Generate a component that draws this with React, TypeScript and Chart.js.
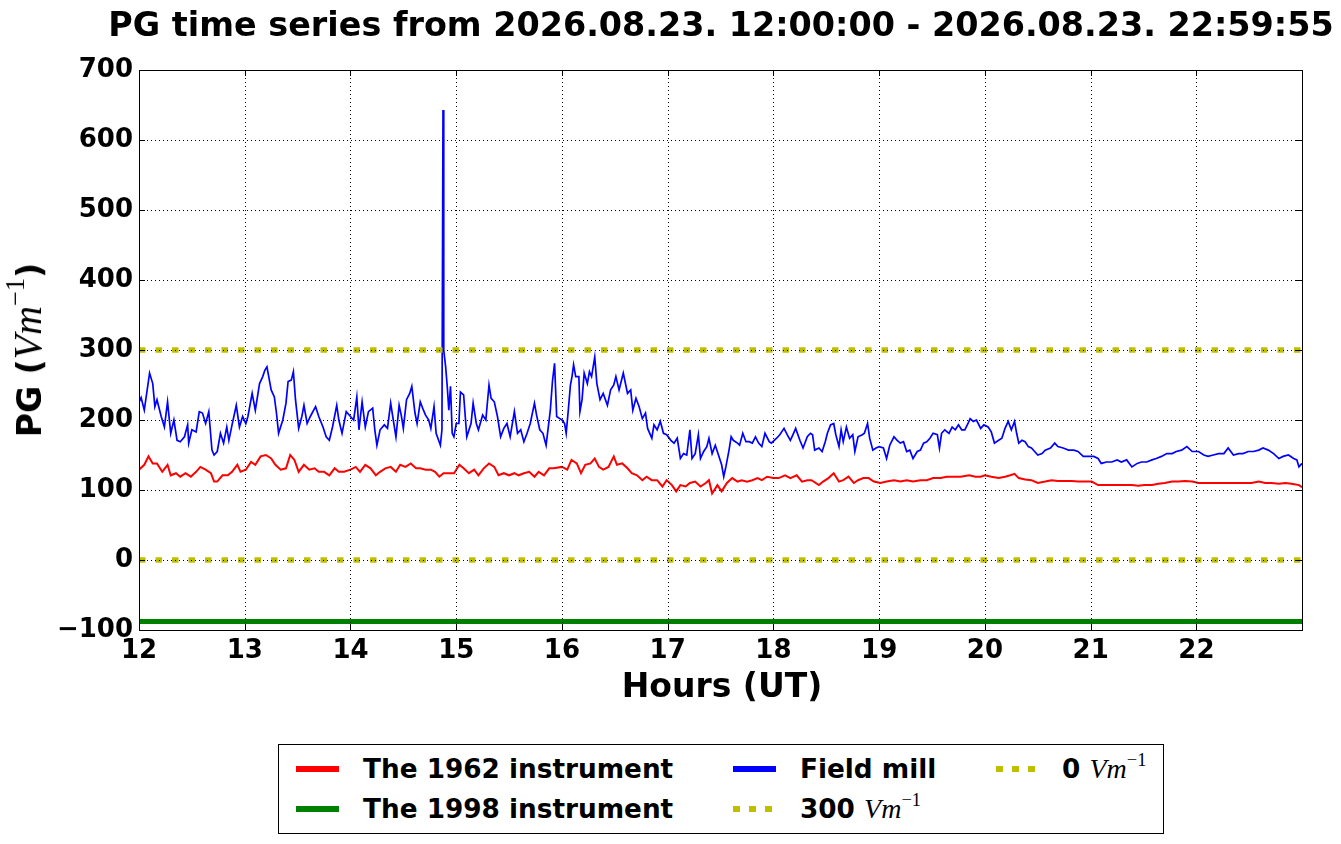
import { useEffect, useRef } from 'react';
import Chart from 'chart.js/auto';

const chartTitle = 'PG time series from 2026.08.23. 12:00:00 - 2026.08.23. 22:59:55';
const xStart = 12;
const xEnd = 22.9986;
const xTicks = [12, 13, 14, 15, 16, 17, 18, 19, 20, 21, 22];
const yTicks = [-100, 0, 100, 200, 300, 400, 500, 600, 700];
const level300 = 300;
const levelZero = 0;
const inst1998Level = -88;

// Field mill (blue)
const millHours = [
  12.0, 12.02, 12.05, 12.1, 12.13, 12.15, 12.17, 12.21, 12.24, 12.27,
  12.3, 12.33, 12.36, 12.39, 12.43, 12.46, 12.47, 12.5, 12.54, 12.57,
  12.6, 12.63, 12.66, 12.69, 12.71, 12.74, 12.77, 12.8, 12.83, 12.85,
  12.88, 12.92, 12.95, 12.98, 13.01, 13.03, 13.07, 13.1, 13.14, 13.17,
  13.19, 13.21, 13.25, 13.28, 13.3, 13.32, 13.36, 13.39, 13.41, 13.44,
  13.46, 13.48, 13.51, 13.54, 13.56, 13.59, 13.62, 13.67, 13.7, 13.74,
  13.77, 13.8, 13.83, 13.87, 13.89, 13.92, 13.96, 14.0, 14.03, 14.06,
  14.08, 14.11, 14.14, 14.17, 14.21, 14.23, 14.25, 14.28, 14.32, 14.35,
  14.38, 14.41, 14.43, 14.46, 14.48, 14.5, 14.53, 14.56, 14.58, 14.61,
  14.63, 14.66, 14.69, 14.71, 14.74, 14.76, 14.79, 14.81, 14.85, 14.865,
  14.875, 14.882, 14.9, 14.915, 14.93, 14.946, 14.962, 14.978, 15.0, 15.025,
  15.04, 15.07, 15.1, 15.14, 15.16, 15.19, 15.21, 15.25, 15.28, 15.31,
  15.33, 15.36, 15.39, 15.42, 15.45, 15.48, 15.51, 15.55, 15.58, 15.61,
  15.64, 15.67, 15.7, 15.74, 15.76, 15.79, 15.82, 15.85, 15.89, 15.91,
  15.93, 15.95, 15.98, 16.0, 16.025, 16.04, 16.06, 16.08, 16.095, 16.11,
  16.13, 16.16, 16.17, 16.19, 16.21, 16.24, 16.26, 16.28, 16.31, 16.33,
  16.36, 16.39, 16.43, 16.46, 16.49, 16.51, 16.54, 16.56, 16.58, 16.62,
  16.65, 16.67, 16.7, 16.73, 16.76, 16.79, 16.81, 16.85, 16.87, 16.9,
  16.93, 16.96, 16.99, 17.03, 17.06, 17.09, 17.12, 17.15, 17.18, 17.21,
  17.23, 17.26, 17.29, 17.31, 17.34, 17.37, 17.39, 17.42, 17.45, 17.48,
  17.51, 17.53, 17.55, 17.58, 17.6, 17.62, 17.66, 17.68, 17.71, 17.74,
  17.77, 17.8, 17.83, 17.86, 17.89, 17.92, 17.96, 17.98, 18.03, 18.06,
  18.1, 18.13, 18.16, 18.19, 18.21, 18.25, 18.28, 18.32, 18.35, 18.37,
  18.39, 18.43, 18.46, 18.49, 18.51, 18.54, 18.57, 18.59, 18.62, 18.64,
  18.66, 18.69, 18.72, 18.75, 18.77, 18.8, 18.84, 18.86, 18.89, 18.91,
  18.94, 18.97, 19.0, 19.04, 19.07, 19.1, 19.14, 19.17, 19.2, 19.23,
  19.26, 19.29, 19.32, 19.36, 19.39, 19.42, 19.45, 19.48, 19.51, 19.55,
  19.57, 19.59, 19.62, 19.66, 19.69, 19.72, 19.75, 19.78, 19.81, 19.84,
  19.86, 19.89, 19.92, 19.96, 19.99, 20.03, 20.06, 20.09, 20.13, 20.16,
  20.19, 20.22, 20.25, 20.28, 20.3, 20.32, 20.35, 20.38, 20.41, 20.44,
  20.47, 20.5, 20.54, 20.57, 20.62, 20.66, 20.69, 20.74, 20.79, 20.84,
  20.88, 20.93, 20.98, 21.03, 21.07, 21.1, 21.15, 21.2, 21.25, 21.29,
  21.34, 21.39, 21.44, 21.48, 21.53, 21.58, 21.62, 21.67, 21.72, 21.77,
  21.81, 21.86, 21.91, 21.96, 22.02, 22.07, 22.11, 22.16, 22.21, 22.26,
  22.3, 22.35, 22.4, 22.44, 22.49, 22.54, 22.59, 22.63, 22.68, 22.73,
  22.78, 22.82, 22.87, 22.92, 22.95, 22.97, 22.9986,
];
const millValues = [
  225, 232, 214, 267, 252, 219, 229, 205, 190, 226,
  181, 200, 171, 169, 176, 193, 167, 186, 183, 212,
  210, 195, 212, 157, 150, 155, 181, 167, 190, 171,
  193, 221, 190, 205, 195, 205, 238, 214, 252, 262,
  271, 276, 243, 233, 210, 181, 200, 224, 255, 257,
  269, 229, 188, 205, 221, 195, 205, 219, 205, 190,
  176, 171, 190, 221, 200, 181, 212, 205, 200, 233,
  186, 226, 190, 212, 217, 186, 164, 186, 193, 188,
  224, 195, 176, 221, 207, 188, 229, 238, 248, 210,
  195, 226, 214, 207, 200, 188, 219, 181, 164, 186,
  643, 300, 276, 248, 214, 248, 181, 176, 195, 195,
  240, 236, 176, 195, 224, 195, 186, 207, 200, 250,
  231, 226, 205, 176, 188, 195, 176, 212, 181, 186,
  169, 181, 195, 224, 207, 186, 181, 164, 214, 255,
  281, 205, 202, 200, 195, 181, 214, 250, 262, 279,
  262, 262, 212, 229, 267, 252, 269, 262, 290, 252,
  229, 238, 221, 243, 250, 262, 243, 255, 267, 238,
  243, 214, 231, 219, 202, 210, 188, 174, 193, 186,
  198, 181, 179, 171, 167, 174, 145, 152, 150, 186,
  145, 152, 179, 145, 155, 162, 174, 152, 164, 150,
  136, 119, 133, 157, 176, 171, 167, 164, 181, 169,
  169, 167, 176, 167, 162, 181, 169, 167, 174, 179,
  188, 179, 171, 181, 188, 171, 160, 176, 181, 179,
  157, 160, 155, 169, 181, 193, 195, 179, 162, 186,
  169, 190, 174, 179, 155, 176, 179, 181, 195, 174,
  157, 160, 162, 160, 145, 164, 176, 171, 167, 169,
  155, 157, 145, 155, 157, 167, 169, 174, 181, 179,
  160, 181, 186, 181, 190, 186, 193, 186, 186, 195,
  202, 198, 200, 188, 193, 190, 183, 167, 171, 174,
  188, 198, 186, 198, 181, 167, 171, 169, 162, 160,
  155, 150, 152, 157, 160, 167, 162, 160, 157, 157,
  155, 148, 148, 148, 145, 138, 140, 140, 143, 140,
  143, 133, 138, 140, 140, 143, 145, 148, 152, 152,
  155, 157, 162, 155, 155, 150, 148, 150, 152, 152,
  160, 150, 152, 152, 155, 155, 157, 160, 157, 152,
  145, 148, 150, 145, 143, 133, 138,
];

// The 1962 instrument (red)
const inst1962Hours = [
  12.0, 12.05, 12.09, 12.13, 12.17, 12.22, 12.27, 12.3, 12.35, 12.39,
  12.44, 12.49, 12.54, 12.58, 12.63, 12.68, 12.71, 12.74, 12.79, 12.84,
  12.88, 12.93, 12.96, 13.01, 13.06, 13.1, 13.15, 13.2, 13.25, 13.29,
  13.34, 13.39, 13.43, 13.47, 13.51, 13.56, 13.61, 13.66, 13.7, 13.75,
  13.8, 13.85, 13.89, 13.94, 14.0, 14.05, 14.09, 14.14, 14.19, 14.24,
  14.28, 14.33, 14.38, 14.43, 14.47, 14.52, 14.57, 14.62, 14.66, 14.71,
  14.76, 14.8, 14.84, 14.88, 14.93, 14.98, 15.03, 15.07, 15.12, 15.17,
  15.21, 15.26, 15.31, 15.36, 15.4, 15.45, 15.5, 15.55, 15.59, 15.64,
  15.69, 15.74, 15.78, 15.83, 15.88, 15.92, 16.0, 16.05, 16.09, 16.14,
  16.18, 16.22, 16.27, 16.31, 16.35, 16.39, 16.44, 16.49, 16.52, 16.57,
  16.62, 16.66, 16.71, 16.76, 16.8, 16.85, 16.9, 16.95, 16.99, 17.04,
  17.08, 17.12, 17.17, 17.21, 17.26, 17.31, 17.36, 17.39, 17.42, 17.47,
  17.51, 17.56, 17.61, 17.66, 17.7, 17.75, 17.8, 17.85, 17.89, 17.94,
  18.0, 18.05, 18.11, 18.16, 18.22, 18.27, 18.32, 18.36, 18.43, 18.47,
  18.52, 18.57, 18.62, 18.66, 18.71, 18.76, 18.8, 18.85, 18.9, 18.95,
  19.01, 19.07, 19.14, 19.2, 19.26, 19.32, 19.39, 19.45, 19.51, 19.58,
  19.64, 19.7, 19.77, 19.85, 19.91, 19.96, 20.0, 20.06, 20.13, 20.19,
  20.24, 20.28, 20.32, 20.38, 20.44, 20.5, 20.57, 20.63, 20.69, 20.76,
  20.82, 20.88, 20.95, 21.01, 21.07, 21.14, 21.2, 21.26, 21.32, 21.39,
  21.45, 21.51, 21.58, 21.64, 21.7, 21.77, 21.83, 21.89, 21.96, 22.02,
  22.08, 22.15, 22.21, 22.27, 22.33, 22.4, 22.46, 22.52, 22.59, 22.65,
  22.71, 22.78, 22.84, 22.9, 22.97, 22.9986,
];
const inst1962Values = [
  129, 136, 148, 138, 138, 126, 136, 121, 124, 119,
  124, 119, 126, 133, 129, 124, 112, 112, 121, 121,
  126, 136, 126, 129, 140, 136, 148, 150, 145, 136,
  129, 131, 150, 143, 126, 136, 129, 131, 126, 126,
  121, 131, 126, 126, 129, 133, 126, 136, 131, 121,
  126, 131, 133, 126, 136, 133, 138, 131, 131, 129,
  129, 126, 119, 124, 124, 124, 136, 131, 124, 129,
  121, 131, 138, 133, 121, 124, 121, 124, 121, 124,
  126, 119, 126, 121, 131, 131, 133, 129, 143, 138,
  124, 136, 138, 145, 133, 129, 133, 148, 136, 138,
  131, 124, 121, 114, 119, 114, 114, 105, 114, 107,
  98, 107, 105, 110, 112, 105, 110, 114, 95, 107,
  98, 110, 117, 112, 114, 112, 114, 117, 114, 119,
  117, 117, 121, 117, 121, 112, 114, 114, 107, 112,
  117, 124, 112, 114, 119, 110, 114, 117, 117, 112,
  110, 112, 114, 112, 114, 112, 114, 114, 117, 117,
  119, 119, 119, 121, 119, 119, 121, 119, 117, 119,
  121, 123, 117, 115, 114, 110, 112, 114, 113, 113,
  113, 112, 112, 112, 107, 107, 107, 107, 107, 107,
  106, 107, 107, 109, 110, 112, 112, 113, 112, 110,
  110, 110, 110, 110, 110, 110, 110, 110, 112, 110,
  110, 109, 110, 109, 107, 104,
];

const red = '#ff0000';
const green = '#008000';
const blue = '#0000ff';
const olive = '#bfbf00';
const sans = '"DejaVu Sans", sans-serif';

const zip = (xs: number[], ys: number[]) => xs.map((x, i) => ({ x, y: ys[i] }));
const flat = (v: number) => [{ x: xStart, y: v }, { x: xEnd, y: v }];
const minus = (v: number) => (v < 0 ? '\u2212' + Math.abs(v) : String(v));

// matplotlib-like frame: dotted grid on top, box and inward ticks
const framePlugin = {
  id: 'mplFrame',
  afterDatasetsDraw(chart: any) {
    const { ctx, chartArea: a, scales } = chart;
    const sx = scales.x;
    const sy = scales.y;
    ctx.save();
    ctx.strokeStyle = '#000';
    ctx.lineWidth = 1;
    ctx.setLineDash([1, 3]);
    ctx.beginPath();
    xTicks.forEach((v) => {
      const px = Math.round(sx.getPixelForValue(v)) + 0.5;
      if (px > a.left + 2 && px < a.right - 2) {
        ctx.moveTo(px, a.top);
        ctx.lineTo(px, a.bottom);
      }
    });
    yTicks.forEach((v) => {
      const py = Math.round(sy.getPixelForValue(v)) + 0.5;
      if (py > a.top + 2 && py < a.bottom - 2) {
        ctx.moveTo(a.left, py);
        ctx.lineTo(a.right, py);
      }
    });
    ctx.stroke();
    ctx.setLineDash([]);
    ctx.beginPath();
    const len = 6;
    xTicks.forEach((v) => {
      const px = Math.round(sx.getPixelForValue(v)) + 0.5;
      ctx.moveTo(px, a.bottom);
      ctx.lineTo(px, a.bottom - len);
      ctx.moveTo(px, a.top);
      ctx.lineTo(px, a.top + len);
    });
    yTicks.forEach((v) => {
      const py = Math.round(sy.getPixelForValue(v)) + 0.5;
      ctx.moveTo(a.left, py);
      ctx.lineTo(a.left + len, py);
      ctx.moveTo(a.right, py);
      ctx.lineTo(a.right - len, py);
    });
    ctx.stroke();
    ctx.strokeRect(Math.round(a.left) + 0.5, Math.round(a.top) + 0.5, Math.round(a.width), Math.round(a.height));
    ctx.restore();
  },
};

const PgChart = () => {
  const canvasRef = useRef<HTMLCanvasElement | null>(null);

  useEffect(() => {
    if (!canvasRef.current) return;
    const tickFont = { family: sans, size: 26, weight: 'bold' as const };

    const chartInstance = new Chart(canvasRef.current, {
      type: 'line',
      data: {
        datasets: [
          { label: 'The 1962 instrument', data: zip(inst1962Hours, inst1962Values), borderColor: red, borderWidth: 2, order: 5 },
          { label: 'The 1998 instrument', data: flat(inst1998Level), borderColor: green, borderWidth: 5, order: 4 },
          { label: 'Field mill', data: zip(millHours, millValues), borderColor: blue, borderWidth: 1.7, order: 3 },
          { label: '300 Vm-1', data: flat(level300), borderColor: olive, borderWidth: 5.5, borderDash: [6.5, 10], borderCapStyle: 'butt', order: 2 },
          { label: '0 Vm-1', data: flat(levelZero), borderColor: olive, borderWidth: 5.5, borderDash: [6.5, 10], borderCapStyle: 'butt', order: 1 },
        ],
      },
      options: {
        animation: false,
        responsive: true,
        maintainAspectRatio: false,
        parsing: false,
        elements: { point: { radius: 0 }, line: { tension: 0 } },
        layout: { padding: { left: 0, top: 70, right: 39, bottom: 174 } },
        plugins: { legend: { display: false }, tooltip: { enabled: false }, title: { display: false } },
        scales: {
          x: {
            type: 'linear',
            min: xStart,
            max: xEnd,
            afterBuildTicks: (s: any) => {
              s.ticks = xTicks.map((value) => ({ value }));
            },
            afterFit: (s: any) => {
              s.height = 40;
            },
            grid: { display: false, drawTicks: false },
            border: { display: false },
            ticks: { font: tickFont, color: '#000', padding: 6, maxRotation: 0, autoSkip: false, callback: (v: any) => String(v) },
          },
          y: {
            min: -100,
            max: 700,
            afterBuildTicks: (s: any) => {
              s.ticks = yTicks.map((value) => ({ value }));
            },
            afterFit: (s: any) => {
              s.width = 139;
            },
            grid: { display: false, drawTicks: false },
            border: { display: false },
            ticks: { font: tickFont, color: '#000', padding: 6, autoSkip: false, callback: (v: any) => minus(Number(v)) },
          },
        },
      },
      plugins: [framePlugin],
    });

    return () => {
      chartInstance.destroy();
    };
  }, []);

  return <canvas ref={canvasRef} />;
};

const mathStyle = { fontFamily: '"Liberation Serif", serif', fontStyle: 'italic', fontWeight: 'normal' } as const;

const Unit = ({ size }: { size: number }) => (
  <span style={{ ...mathStyle, fontSize: size }}>
    Vm
    <span style={{ fontStyle: 'normal', fontSize: size * 0.66, position: 'relative', top: -size * 0.42 }}>{'\u2212'}1</span>
  </span>
);

const legendRows = [
  [
    { label: 'The 1962 instrument', color: red, dotted: false, unit: false },
    { label: 'Field mill', color: blue, dotted: false, unit: false },
    { label: '0', color: olive, dotted: true, unit: true },
  ],
  [
    { label: 'The 1998 instrument', color: green, dotted: false, unit: false },
    { label: '300', color: olive, dotted: true, unit: true },
  ],
];
const colSample = [17, 454, 717];
const colText = [85, 522, 784];
const rowCenter = [24, 64];

export default function App() {
  return (
    <div style={{ position: 'absolute', left: 0, top: 0, width: 1341, height: 844, background: '#fff', fontFamily: sans }}>
      <div style={{ position: 'absolute', left: 0, top: 0, width: 1341, height: 844 }}>
        <PgChart />
      </div>
      <div style={{ position: 'absolute', left: 721, top: 8, transform: 'translateX(-50%)', whiteSpace: 'nowrap', fontWeight: 'bold', fontSize: 33.4, lineHeight: '34px' }}>
        {chartTitle}
      </div>
      <div style={{ position: 'absolute', left: 722, top: 669, transform: 'translateX(-50%)', whiteSpace: 'nowrap', fontWeight: 'bold', fontSize: 33, lineHeight: '33px' }}>
        Hours (UT)
      </div>
      <div style={{ position: 'absolute', left: 30, top: 350, transform: 'translate(-50%, -50%) rotate(-90deg)', whiteSpace: 'nowrap', fontWeight: 'bold', fontSize: 33, lineHeight: '40px' }}>
        PG (<Unit size={40} />)
      </div>
      <div style={{ position: 'absolute', left: 278, top: 744, width: 886, height: 90, boxSizing: 'border-box', border: '1px solid #000', background: '#fff' }}>
        {legendRows.map((row, r) =>
          row.map((item, c) => (
            <div key={item.label}>
              <div
                style={{
                  position: 'absolute',
                  left: colSample[c],
                  top: rowCenter[r] - 3,
                  width: item.dotted ? 39 : 43,
                  height: 6,
                  background: item.dotted ? `repeating-linear-gradient(to right, ${item.color} 0 7px, transparent 7px 16px)` : item.color,
                }}
              />
              <div style={{ position: 'absolute', left: colText[c] - 1, top: rowCenter[r] - 15, whiteSpace: 'nowrap', fontWeight: 'bold', fontSize: 26.3, lineHeight: '30px' }}>
                {item.label}
                {item.unit ? <> <Unit size={28} /></> : null}
              </div>
            </div>
          ))
        )}
      </div>
    </div>
  );
}
